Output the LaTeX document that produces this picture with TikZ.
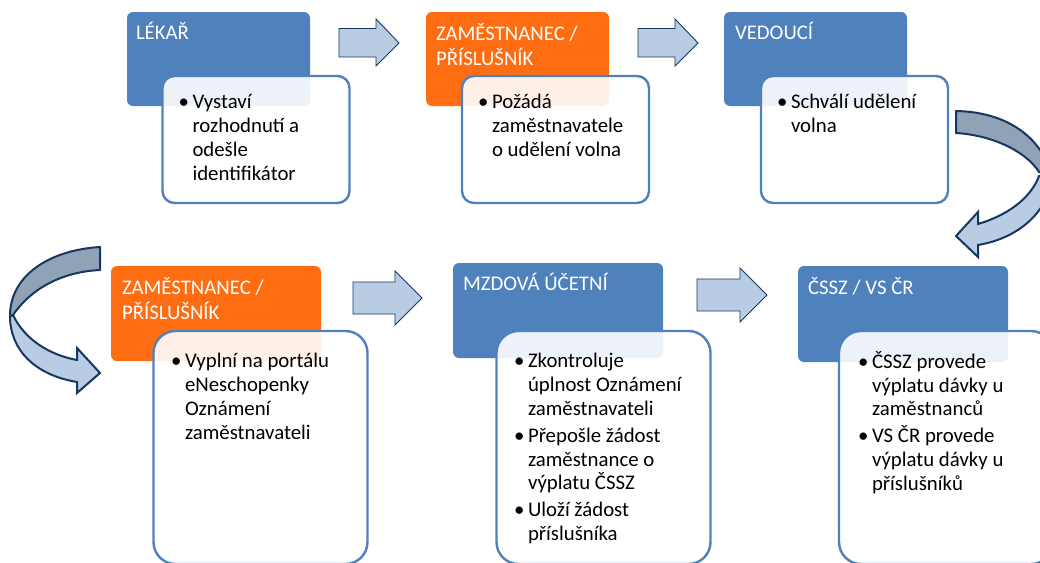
\documentclass[tikz,border=0pt]{standalone}
\usepackage{fontspec}
\setmainfont{Carlito}
\definecolor{hblue}{HTML}{4F81BD}
\definecolor{horange}{HTML}{FF6D12}
\definecolor{arrowfill}{HTML}{B8CCE4}
\definecolor{arrowgray}{HTML}{8FA2B6}
\definecolor{arrowedge}{HTML}{17375E}
\newcommand{\bul}{\llap{\makebox[14pt][l]{•}}}
\tikzset{
  every node/.style={inner sep=0pt,outer sep=0pt},
  headbox/.style={anchor=north west,rounded corners=6pt,fill=hblue,minimum width=#1},
  orangebox/.style={headbox=#1,fill=horange},
  bodybox/.style={anchor=north west,rounded corners=12pt,draw=hblue,line width=2.4pt,fill=white,fill opacity=0.9},
  bigbody/.style={bodybox,rounded corners=22pt,minimum width=214pt,minimum height=233pt},
  smallbody/.style={bodybox,minimum width=187pt,minimum height=127pt},
  headlabel/.style={anchor=north west,text=white,align=left,font=\fontsize{20.8}{24}\selectfont},
  bodylabel/.style={anchor=north west,text=black,align=left,font=\fontsize{20.8}{23.7}\selectfont},
  blockarrow/.style={draw=arrowedge,fill=arrowfill,line width=0.9pt,line join=miter},
  bentback/.style={draw=arrowedge,fill=arrowgray,line width=2pt,line join=round},
  bentfront/.style={draw=arrowedge,fill=arrowfill,line width=2pt,line join=miter},
}
\begin{document}
\begin{tikzpicture}[x=1pt,y=-1pt]
\useasboundingbox (0,0) rectangle (1040,562);
\clip (0,0) rectangle (1040,562);
% Row 1
\node[headbox=183pt,minimum height=94pt] (h1) at (127,12) {};
\node[headlabel] (t1) at (136,22.5) {\strut LÉKAŘ};
\node[smallbody] (b1) at (162.5,76) {};
\node[bodylabel] (l1) at (192.5,92.4) {\strut\bul Vystaví\\rozhodnutí a\\odešle\\identifikátor};
\node[orangebox=183pt,minimum height=94pt] (h2) at (426,12) {};
\node[headlabel] (t2) at (436,23) {\strut ZAMĚSTNANEC /\\PŘÍSLUŠNÍK};
\node[smallbody] (b2) at (462,76) {};
\node[bodylabel] (l2) at (492,92.4) {\strut\bul Požádá\\zaměstnavatele\\o udělení volna};
\node[headbox=183pt,minimum height=94pt] (h3) at (724,12) {};
\node[headlabel] (t3) at (735,22.5) {\strut VEDOUCÍ};
\node[smallbody] (b3) at (761,76) {};
\node[bodylabel] (l3) at (791,92.4) {\strut\bul Schválí udělení\\volna};
% Row 2
\node[orangebox=210pt,minimum height=95pt] (h4) at (111,266) {};
\node[headlabel] (t4) at (122,277) {\strut ZAMĚSTNANEC /\\PŘÍSLUŠNÍK};
\node[bigbody] (b4) at (153.5,331) {};
\node[bodylabel] (l4) at (185,351.4) {\strut\bul Vyplní na portálu\\eNeschopenky\\Oznámení\\zaměstnavateli};
\node[headbox=210pt,minimum height=95pt] (h5) at (453,263) {};
\node[headlabel] (t5) at (463,273) {\strut MZDOVÁ ÚČETNÍ};
\node[bigbody] (b5) at (496.5,331) {};
\node[bodylabel] (l5) at (528,351.4) {\strut\bul Zkontroluje\\úplnost Oznámení\\zaměstnavateli\\[3.4pt]\bul Přepošle žádost\\zaměstnance o\\výplatu ČSSZ\\[3.4pt]\bul Uloží žádost\\příslušníka};
\node[headbox=210pt,minimum height=96pt] (h6) at (798,266) {};
\node[headlabel] (t6) at (808,277) {\strut ČSSZ / VS ČR};
\node[bigbody] (b6) at (839,331) {};
\node[bodylabel] (l6) at (872,351.4) {\strut\bul ČSSZ provede\\výplatu dávky u\\zaměstnanců\\[3.4pt]\bul VS ČR provede\\výplatu dávky u\\příslušníků};
% Straight block arrows
\draw[blockarrow] (339,28.5) -- (376,28.5) -- (376,19) -- (399,43) -- (376,66) -- (376,57) -- (339,57) -- cycle;
\draw[blockarrow] (638,28.5) -- (675,28.5) -- (675,19) -- (698,43) -- (675,66) -- (675,57) -- (638,57) -- cycle;
\draw[blockarrow] (353,282) -- (395,282) -- (395,271) -- (422,298) -- (395,325) -- (395,314) -- (353,314) -- cycle;
\draw[blockarrow] (697,279) -- (740,279) -- (740,268) -- (767,295) -- (740,322) -- (740,311) -- (697,311) -- cycle;
% Curved arrow, right
\draw[bentfront] (1039,176) .. controls (1030,200) and (1005,216) .. (978,224) -- (978,212) -- (956,236) -- (978,257) -- (978,245) .. controls (1020,238) and (1050,210) .. (1052,175) -- cycle;
\draw[bentback] (956,111) .. controls (1005,112) and (1040,135) .. (1052,175) -- (1039,172) .. controls (1025,150) and (990,135) .. (956,133) -- cycle;
% Curved arrow, left
\draw[bentfront] (13,315) .. controls (25,340) and (50,355) .. (77,360) -- (77,348) -- (100,373) -- (77,393) -- (77,382) .. controls (35,375) and (10,350) .. (10,316) -- cycle;
\draw[bentback] (100,247) .. controls (50,250) and (10,275) .. (10,316) -- (13,315) .. controls (30,290) and (60,272) .. (100,270) -- cycle;
\end{tikzpicture}
\end{document}
